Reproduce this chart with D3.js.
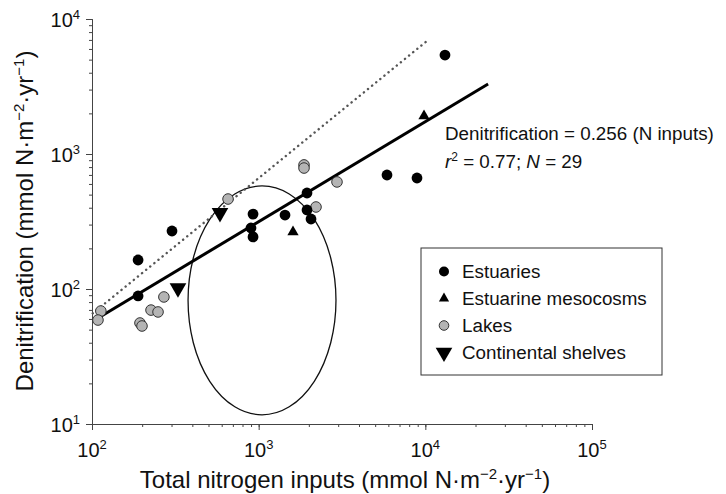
<!DOCTYPE html>
<meta charset="utf-8">
<script src="https://d3js.org/d3.v7.min.js"></script>
<style>
  body { margin: 0; background: #fff; }
  text { font-family: "Liberation Sans", Arial, sans-serif; fill: #111; }
</style>
<div id="my_dataviz"></div>
<script>

// data (x = total N inputs, y = denitrification)
var estuariesX = [189, 302, 189, 925, 899, 925, 1439, 1950, 1950, 2061, 5888, 8913, 13120];
var estuariesY = [88.8, 269, 164, 359, 283, 243, 353, 514, 385, 330, 699, 664, 5408];
var mesocosmsX = [1607, 9820];
var mesocosmsY = [264, 1910];
var lakesX = [1871, 1871, 2951, 655, 2208, 270, 226, 249, 194, 199.5, 113, 108.6];
var lakesY = [830, 787, 621, 464, 405, 87.3, 69.8, 67.6, 56, 53.2, 68.7, 58.9];
var shelvesX = [586, 328];
var shelvesY = [366, 101.6];

// regression line and dotted reference line end points
var fitX = [104, 23800];
var fitY = [59, 3300];
var refX = [101, 10380];
var refY = [66, 6980];

// ellipse extent in data units
var ellipseX = [377, 2910];
var ellipseY = [11.7, 580];

var xTicks = [1e2, 1e3, 1e4, 1e5];
var yTicks = [1e1, 1e2, 1e3, 1e4];
var legendNames = ["Estuaries", "Estuarine mesocosms", "Lakes", "Continental shelves"];

var margin = {top: 19, right: 134, bottom: 70, left: 92},
    width = 726 - margin.left - margin.right,
    height = 494 - margin.top - margin.bottom;

var svg = d3.select("#my_dataviz")
  .append("svg")
    .attr("width", 726)
    .attr("height", 494)
  .append("g")
    .attr("transform", "translate(" + margin.left + "," + margin.top + ")");

var x = d3.scaleLog().domain([1e2, 1e5]).range([0, width]);
var y = d3.scaleLog().domain([1e1, 1e4]).range([height, 0]);

function powLabel(sel, exp) {
  sel.text("10").append("tspan")
    .attr("dy", -8)
    .style("font-size", "13px")
    .text(exp);
}

// axes: minor then major ticks
svg.append("g")
  .attr("transform", "translate(0," + height + ")")
  .call(d3.axisBottom(x).tickValues(x.ticks()).tickSize(3).tickFormat(""));
svg.append("g")
  .attr("transform", "translate(0," + height + ")")
  .call(d3.axisBottom(x).tickValues(xTicks).tickSize(6).tickFormat(""));

svg.append("g")
  .call(d3.axisLeft(y).tickValues(y.ticks()).tickSize(3).tickFormat(""));
svg.append("g")
  .call(d3.axisLeft(y).tickValues(yTicks).tickSize(6).tickFormat(""));

svg.selectAll(".domain").attr("stroke", "#444").attr("stroke-width", 1);
svg.selectAll(".tick line").attr("stroke", "#444");

// tick labels
svg.selectAll("xlab")
  .data(xTicks)
  .enter()
  .append("text")
    .attr("x", function(d) { return x(d); })
    .attr("y", height + 33)
    .attr("text-anchor", "middle")
    .style("font-size", "20px")
    .each(function(d) { powLabel(d3.select(this), Math.log10(d)); });

svg.selectAll("ylab")
  .data(yTicks)
  .enter()
  .append("text")
    .attr("x", -12)
    .attr("y", function(d) { return y(d) + 8; })
    .attr("text-anchor", "end")
    .style("font-size", "20px")
    .each(function(d) { powLabel(d3.select(this), Math.log10(d)); });

// axis titles
function unitLabel(t, lead) {
  t.append("tspan").text(lead + " (mmol N\u00b7m");
  t.append("tspan").attr("dy", -9).style("font-size", "15px").text("\u22122");
  t.append("tspan").attr("dy", 9).text("\u00b7yr");
  t.append("tspan").attr("dy", -9).style("font-size", "15px").text("\u22121");
  t.append("tspan").attr("dy", 9).text(")");
}

var xt = svg.append("text")
  .attr("x", 253)
  .attr("y", height + 64)
  .attr("text-anchor", "middle")
  .style("font-size", "24px");
unitLabel(xt, "Total nitrogen inputs");

var yt = svg.append("text")
  .attr("transform", "rotate(-90)")
  .attr("x", -202)
  .attr("y", -59)
  .attr("text-anchor", "middle")
  .style("font-size", "24px");
unitLabel(yt, "Denitrification");

// ellipse
svg.append("ellipse")
  .attr("cx", (x(ellipseX[0]) + x(ellipseX[1])) / 2)
  .attr("cy", (y(ellipseY[0]) + y(ellipseY[1])) / 2)
  .attr("rx", (x(ellipseX[1]) - x(ellipseX[0])) / 2)
  .attr("ry", (y(ellipseY[0]) - y(ellipseY[1])) / 2)
  .attr("fill", "none")
  .attr("stroke", "#111")
  .attr("stroke-width", 1.3);

// dotted reference line
svg.append("line")
  .attr("x1", x(refX[0])).attr("y1", y(refY[0]))
  .attr("x2", x(refX[1])).attr("y2", y(refY[1]))
  .attr("stroke", "#555")
  .attr("stroke-width", 2.4)
  .attr("stroke-linecap", "round")
  .attr("stroke-dasharray", "0.1,5.2");

// regression line
svg.append("line")
  .attr("x1", x(fitX[0])).attr("y1", y(fitY[0]))
  .attr("x2", x(fitX[1])).attr("y2", y(fitY[1]))
  .attr("stroke", "#000")
  .attr("stroke-width", 3);

var up = d3.symbol().type(d3.symbolTriangle).size(55);
var down = d3.symbol().type(d3.symbolTriangle).size(120);

// lakes
svg.selectAll("lake")
  .data(lakesX)
  .enter()
  .append("circle")
    .attr("cx", function(d) { return x(d); })
    .attr("cy", function(d, i) { return y(lakesY[i]); })
    .attr("r", 5.3)
    .attr("fill", "#b4b4b4")
    .attr("stroke", "#333")
    .attr("stroke-width", 1);

// estuaries
svg.selectAll("est")
  .data(estuariesX)
  .enter()
  .append("circle")
    .attr("cx", function(d) { return x(d); })
    .attr("cy", function(d, i) { return y(estuariesY[i]); })
    .attr("r", 5.4)
    .attr("fill", "#000");

// mesocosms
svg.selectAll("meso")
  .data(mesocosmsX)
  .enter()
  .append("path")
    .attr("d", up)
    .attr("transform", function(d, i) { return "translate(" + x(d) + "," + y(mesocosmsY[i]) + ")"; })
    .attr("fill", "#000");

// continental shelves
svg.selectAll("shelf")
  .data(shelvesX)
  .enter()
  .append("path")
    .attr("d", down)
    .attr("transform", function(d, i) { return "translate(" + x(d) + "," + y(shelvesY[i]) + ") rotate(180)"; })
    .attr("fill", "#000");

// equation
var eq = svg.append("g").attr("transform", "translate(353,0)");
eq.append("text")
  .attr("y", 121)
  .style("font-size", "18.8px")
  .text("Denitrification = 0.256 (N inputs)");
var r2 = eq.append("text")
  .attr("y", 149)
  .style("font-size", "18.8px");
r2.append("tspan").style("font-style", "italic").text("r");
r2.append("tspan").attr("dy", -7).style("font-size", "12px").text("2");
r2.append("tspan").attr("dy", 7).text(" = 0.77; ");
r2.append("tspan").style("font-style", "italic").text("N");
r2.append("tspan").text(" = 29");

// legend
var lg = svg.append("g").attr("transform", "translate(329,229)");
lg.append("rect")
  .attr("width", 241)
  .attr("height", 127)
  .attr("fill", "#fff")
  .attr("stroke", "#333")
  .attr("stroke-width", 1);

var rows = lg.selectAll("row")
  .data(legendNames)
  .enter()
  .append("g")
    .attr("transform", function(d, i) { return "translate(23," + (23.5 + i * 27) + ")"; });

rows.append("text")
  .attr("x", 18)
  .attr("y", 6.5)
  .style("font-size", "18.8px")
  .text(function(d) { return d; });

rows.each(function(d, i) {
  var g = d3.select(this);
  if (i === 0) g.append("circle").attr("r", 5).attr("fill", "#000");
  if (i === 1) g.append("path").attr("d", d3.symbol().type(d3.symbolTriangle).size(45)).attr("fill", "#000");
  if (i === 2) g.append("circle").attr("r", 4.8).attr("fill", "#b4b4b4").attr("stroke", "#333");
  if (i === 3) g.append("path").attr("d", down).attr("transform", "rotate(180)").attr("fill", "#000");
});

</script>
